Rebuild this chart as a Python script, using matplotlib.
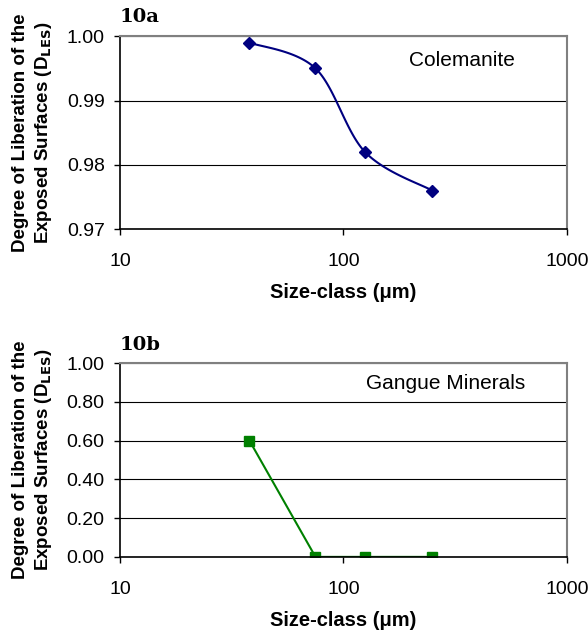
import numpy as np
import matplotlib.pyplot as plt

# size classes (um) and liberation degrees
size_class = [38, 75, 125, 250]
d_colemanite = [0.999, 0.995, 0.982, 0.976]
d_gangue = [0.60, 0.0, 0.0, 0.0]

ticks_a = [0.97, 0.98, 0.99, 1.00]
ticks_b = [0.0, 0.2, 0.4, 0.6, 0.8, 1.0]

plt.rcParams['font.family'] = ['Liberation Sans', 'DejaVu Sans']


def smooth(x, y, n=40):
    # Excel-style smoothed line: Bezier with Catmull-Rom control points, in log-x
    lx = np.log10(x)
    y = np.asarray(y, dtype=float)
    px, py = [], []
    for i in range(len(lx) - 1):
        x0, y0 = lx[max(i - 1, 0)], y[max(i - 1, 0)]
        x1, y1 = lx[i], y[i]
        x2, y2 = lx[i + 1], y[i + 1]
        x3, y3 = lx[min(i + 2, len(lx) - 1)], y[min(i + 2, len(lx) - 1)]
        c1x, c1y = x1 + (x2 - x0) / 6, y1 + (y2 - y0) / 6
        c2x, c2y = x2 - (x3 - x1) / 6, y2 - (y3 - y1) / 6
        t = np.linspace(0, 1, n)
        bx = (1-t)**3*x1 + 3*(1-t)**2*t*c1x + 3*(1-t)*t**2*c2x + t**3*x2
        by = (1-t)**3*y1 + 3*(1-t)**2*t*c1y + 3*(1-t)*t**2*c2y + t**3*y2
        px.extend(bx)
        py.extend(by)
    return 10 ** np.array(px), np.array(py)


def style(ax, yticks, fmt):
    ax.set_xscale('log')
    ax.set_xlim(10, 1000)
    ax.set_ylim(yticks[0], yticks[-1])
    ax.set_yticks(yticks)
    ax.set_yticklabels([fmt % v for v in yticks])
    ax.set_xticks([10, 100, 1000])
    ax.set_xticklabels(['10', '100', '1000'])
    ax.xaxis.set_minor_locator(plt.NullLocator())
    ax.tick_params(direction='out', length=4, width=1, labelsize=14)
    ax.tick_params(axis='x', pad=13)
    ax.tick_params(axis='y', pad=7)
    ax.yaxis.grid(True, color='black', linewidth=0.8)
    ax.set_axisbelow(True)
    for s in ['top', 'right']:
        ax.spines[s].set_color('#808080')
        ax.spines[s].set_linewidth(1.5)
    for s in ['left', 'bottom']:
        ax.spines[s].set_color('black')
        ax.spines[s].set_linewidth(1.2)
    ax.set_xlabel('Size-class (\u03bcm)', fontsize=14.5, fontweight='bold')
    ax.xaxis.set_label_coords(0.5, -0.28)
    ax.set_ylabel('Degree of Liberation of the\nExposed Surfaces (D$_{\\mathbf{LES}}$)',
                  fontsize=13.5, fontweight='bold', linespacing=1.25)
    ax.yaxis.set_label_coords(-0.148, 0.5)


fig = plt.figure(figsize=(5.88, 6.35), dpi=100)
ax1 = fig.add_axes([0.204, 0.639, 0.760, 0.304])
ax2 = fig.add_axes([0.204, 0.123, 0.760, 0.305])

sx, sy = smooth(size_class, d_colemanite)
ax1.plot(sx, sy, color='#000080', linewidth=1.5)
ax1.plot(size_class, d_colemanite, linestyle='none', marker='D', markersize=6.5, color='#000080')
style(ax1, ticks_a, '%.2f')
ax1.text(0.884, 0.876, 'Colemanite', transform=ax1.transAxes, ha='right', va='center', fontsize=15)
ax1.text(0.0, 1.098, '10a', transform=ax1.transAxes, ha='left', va='center',
         fontsize=14, fontweight='bold', family='DejaVu Serif')

ax2.plot(size_class, d_gangue, color='#008000', linewidth=1.5, marker='s', markersize=7.5)
style(ax2, ticks_b, '%.2f')
ax2.text(0.906, 0.897, 'Gangue Minerals', transform=ax2.transAxes, ha='right', va='center', fontsize=15)
ax2.text(0.0, 1.093, '10b', transform=ax2.transAxes, ha='left', va='center',
         fontsize=14, fontweight='bold', family='DejaVu Serif')

fig.savefig('out.png', dpi=100)
